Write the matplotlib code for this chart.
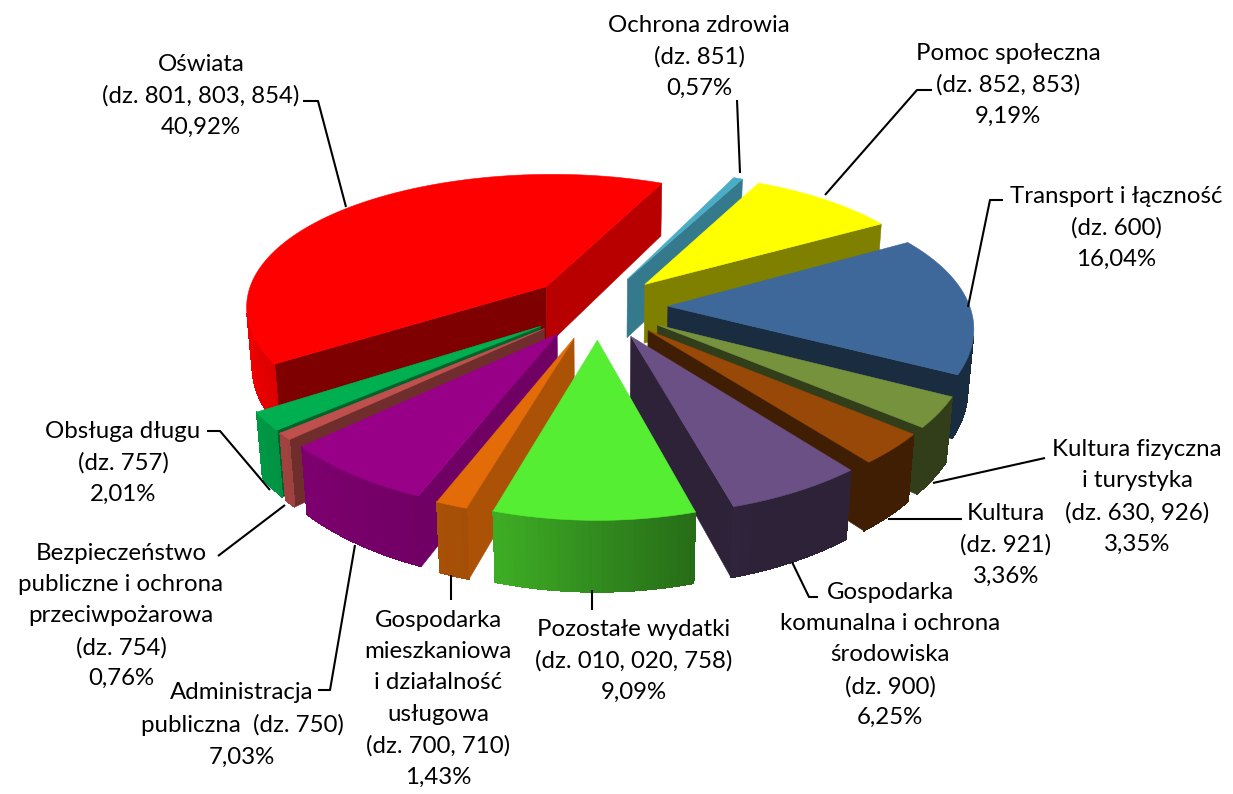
import numpy as np
import matplotlib
matplotlib.use("Agg")
import matplotlib.pyplot as plt
from matplotlib.patches import Polygon
from matplotlib.colors import to_rgb

plt.rcParams['font.family'] = ['Lato', 'DejaVu Sans']

# ---- data -------------------------------------------------------------
categories = ["Ochrona zdrowia\n(dz. 851)", "Pomoc społeczna\n(dz. 852, 853)",
              "Transport i łączność\n(dz. 600)", "Kultura fizyczna\ni turystyka\n(dz. 630, 926)",
              "Kultura\n(dz. 921)", "Gospodarka\nkomunalna i ochrona\nśrodowiska\n(dz. 900)",
              "Pozostałe wydatki\n(dz. 010, 020, 758)",
              "Gospodarka\nmieszkaniowa\ni działalność\nusługowa\n(dz. 700, 710)",
              "Administracja\npubliczna  (dz. 750)",
              "Bezpieczeństwo\npubliczne i ochrona\nprzeciwpożarowa\n(dz. 754)",
              "Obsługa długu\n(dz. 757)", "Oświata\n(dz. 801, 803, 854)"]
values = [0.57, 9.19, 16.04, 3.35, 3.36, 6.25, 9.09, 1.43, 7.03, 0.76, 2.01, 40.92]
colors = ["#4BACC6", "#FFFF00", "#3D6899", "#76923C", "#984807", "#6A5085",
          "#55EE33", "#E36C09", "#990088", "#C0504D", "#00B050", "#FF0000"]

# ---- layout / style ---------------------------------------------------
label_pos = [(699, 57), (1008, 85), (1116, 228), (1137, 497), (1006, 545), (890, 655),
             (634, 661), (438, 699), (242, 725), (121, 616), (123, 463), (201, 96)]
leaders = [[(737, 100), (740, 173)],
           [(932, 90), (917, 90), (825, 195)],
           [(1003, 200), (990, 200), (968, 307)],
           [(1045, 458), (933, 483)],
           [(962, 519), (888, 519)],
           [(818, 597), (809, 597), (792, 562)],
           [(592, 590), (592, 610)],
           [(451, 575), (451, 600)],
           [(355, 545), (330, 690), (318, 690)],
           [(218, 556), (285, 505)],
           [(207, 431), (220, 431), (270, 490)],
           [(303, 101), (318, 101), (346, 207)]]
START = 24.6      # first slice angle, clockwise from north
R, EXPL, H = 302.0, 70.0, 61.0
CX, CY = 598.0, 307.0
TILT, DIST, DIST_V, ZB = 0.455, 2260.0, 1800.0, 0.6


def proj(x, y, z=0.0):
    s = 1.0 / (1.0 - (y - ZB * z) / DIST)
    return CX + x * s, CY + TILT * y / (1.0 - y / DIST_V) + z * s


def rim_shade(a):
    a = a % 360
    return np.interp(a, [90, 160, 170, 196, 227, 270], [.42, .42, .5, .72, .82, 1.0])


def cut_shade(n):
    n = n % 360
    return np.interp(n, [100, 110, 137, 147, 207, 260], [.78, .75, .58, .5, .42, .42])


def shade(c, k):
    return tuple(np.clip(np.array(to_rgb(c)) * k, 0, 1))


def area(p):
    p = np.array(p)
    return 0.5 * np.sum(p[:, 0] * np.roll(p[:, 1], -1) - np.roll(p[:, 0], -1) * p[:, 1])


fig = plt.figure(figsize=(12.33, 7.94), dpi=100, facecolor="white")
ax = fig.add_axes([0, 0, 1, 1])
ax.set_xlim(0, 1233)
ax.set_ylim(794, 0)
ax.axis("off")

fr = np.cumsum([0] + values) / 100.0 * 360.0 + START
order = sorted(range(len(values)), key=lambda i: -np.cos(np.radians((fr[i] + fr[i + 1]) / 2)))


def put(pts, col, z, aa=True):
    ax.add_patch(Polygon(pts, closed=True, facecolor=col, edgecolor=col, lw=0.4, zorder=z,
                         antialiased=aa))


for rank, i in enumerate(order):
    a0, a1, c = fr[i], fr[i + 1], colors[i]
    mid = np.radians((a0 + a1) / 2)
    ox, oy = EXPL * np.sin(mid), -EXPL * np.cos(mid)
    n = max(2, int((a1 - a0) / 1.0))
    angs = np.linspace(a0, a1, n + 1)
    xs = ox + R * np.sin(np.radians(angs))
    ys = oy - R * np.cos(np.radians(angs))
    z = 2 + rank
    # cut faces
    for ang, (nrm, ex, ey) in zip((a0, a1), ((a0 - 90, xs[0], ys[0]), (a1 + 90, xs[-1], ys[-1]))):
        q = [proj(ox, oy), proj(ex, ey), proj(ex, ey, H), proj(ox, oy, H)]
        facing = area(q) < 0 if ang == a0 else area(q) > 0
        if facing:
            put(q, shade(c, cut_shade(nrm)), z)
    # outer rim, segment by segment
    for j in range(n):
        q = [proj(xs[j], ys[j]), proj(xs[j + 1], ys[j + 1]),
             proj(xs[j + 1], ys[j + 1], H), proj(xs[j], ys[j], H)]
        if area(q) < 0:
            put(q, shade(c, rim_shade((angs[j] + angs[j + 1]) / 2)), z, aa=False)
    # top face
    top = [proj(ox, oy)] + [proj(x, y) for x, y in zip(xs, ys)]
    put(top, c, z + 0.5)

for path in leaders:
    xy = np.array(path)
    ax.plot(xy[:, 0], xy[:, 1], color="black", lw=1.5, zorder=30, solid_capstyle="butt")

for cat, val, (x, y) in zip(categories, values, label_pos):
    txt = f"{cat}\n{val:.2f}%".replace(".", ",").replace("dz,", "dz.")
    ax.text(x, y, txt, ha="center", va="center", fontsize=17.3, color="black",
            linespacing=1.6, zorder=40)

fig.savefig("out.png", dpi=100, facecolor="white")
